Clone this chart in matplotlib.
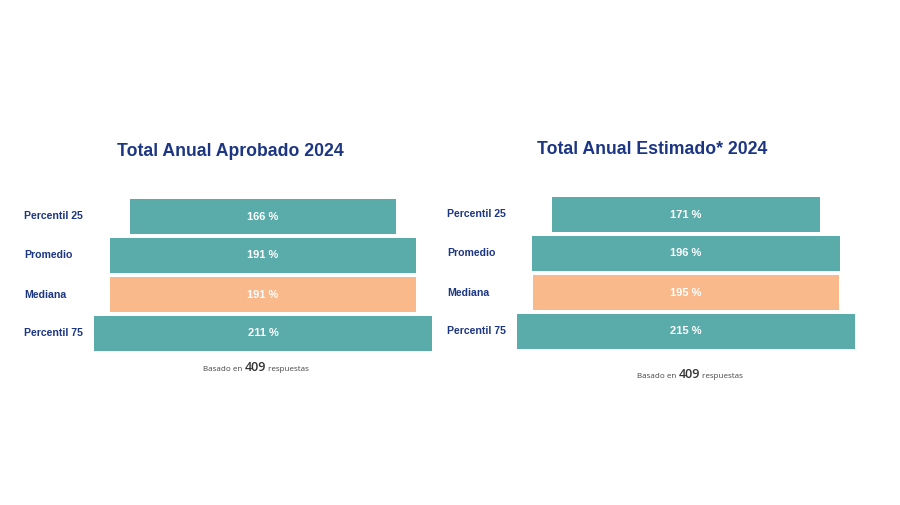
import matplotlib
matplotlib.use("Agg")
import matplotlib.pyplot as plt

categories = ["Percentil 25", "Promedio", "Mediana", "Percentil 75"]
aprobado_values = [166, 191, 191, 211]
estimado_values = [171, 196, 195, 215]
titles = ["Total Anual Aprobado 2024", "Total Anual Estimado* 2024"]
responses = 409

TEAL = "#5AACAB"
ORANGE = "#F9B98A"
NAVY = "#1D3683"
colors = [TEAL, TEAL, ORANGE, TEAL]

W, H = 900, 505
fig = plt.figure(figsize=(W / 100, H / 100), dpi=100)
fig.patch.set_facecolor("white")

def fx(x):
    return x / W

def fy(y):
    return 1 - y / H

panels = [
    dict(values=aprobado_values, title=titles[0], cx=263, scale=1.60, c0=216.5,
         lab_x=24, title_xy=(230, 152), foot_xy=(256, 368)),
    dict(values=estimado_values, title=titles[1], cx=686, scale=1.57, c0=214.5,
         lab_x=447, title_xy=(652, 149), foot_xy=(690, 375)),
]

step = 39.0
bar_h = 35.0 / step
half_w_px = 183

for p in panels:
    top = p["c0"] - 0.551 * step
    height_px = 4.102 * step
    ax = fig.add_axes([fx(p["cx"] - half_w_px), fy(top + height_px),
                       2 * half_w_px / W, height_px / H])
    lim = half_w_px / p["scale"]
    ax.set_xlim(-lim, lim)
    ax.set_ylim(3.551, -0.551)
    ax.axis("off")
    vals = p["values"]
    ypos = list(range(len(categories)))
    ax.barh(ypos, vals, left=[-v / 2 for v in vals], height=bar_h, color=colors)
    for i, v in enumerate(vals):
        ax.text(0, i, f"{v} %", ha="center", va="center", color="white",
                fontsize=8, fontweight="bold", family="Liberation Sans")
        fig.text(fx(p["lab_x"]), fy(p["c0"] + i * step), categories[i],
                 ha="left", va="center", color=NAVY, fontsize=7.6,
                 fontweight="bold", family="Liberation Sans")
    fig.text(fx(p["title_xy"][0]), fy(p["title_xy"][1]), p["title"],
             ha="center", va="center", color=NAVY, fontsize=12.7,
             fontweight="bold", family="Liberation Sans")

fig.canvas.draw()
renderer = fig.canvas.get_renderer()

for p in panels:
    fx0, fy0 = p["foot_xy"]
    parts = [("Basado en ", 5.8, "#444444", "normal"),
             (str(responses), 9, "#333333", "semibold"),
             (" respuestas", 5.8, "#444444", "normal")]
    texts = []
    widths = []
    for s, fs, c, wt in parts:
        t = fig.text(0, fy(fy0 + 3), s, fontsize=fs, color=c, family="Open Sans",
                     fontweight=wt, ha="left", va="baseline")
        texts.append(t)
        widths.append(t.get_window_extent(renderer).width)
    total = sum(widths)
    x = fx0 - total / 2
    for t, w in zip(texts, widths):
        t.set_x(fx(x))
        x += w

fig.savefig("out.png", dpi=100, facecolor="white")
